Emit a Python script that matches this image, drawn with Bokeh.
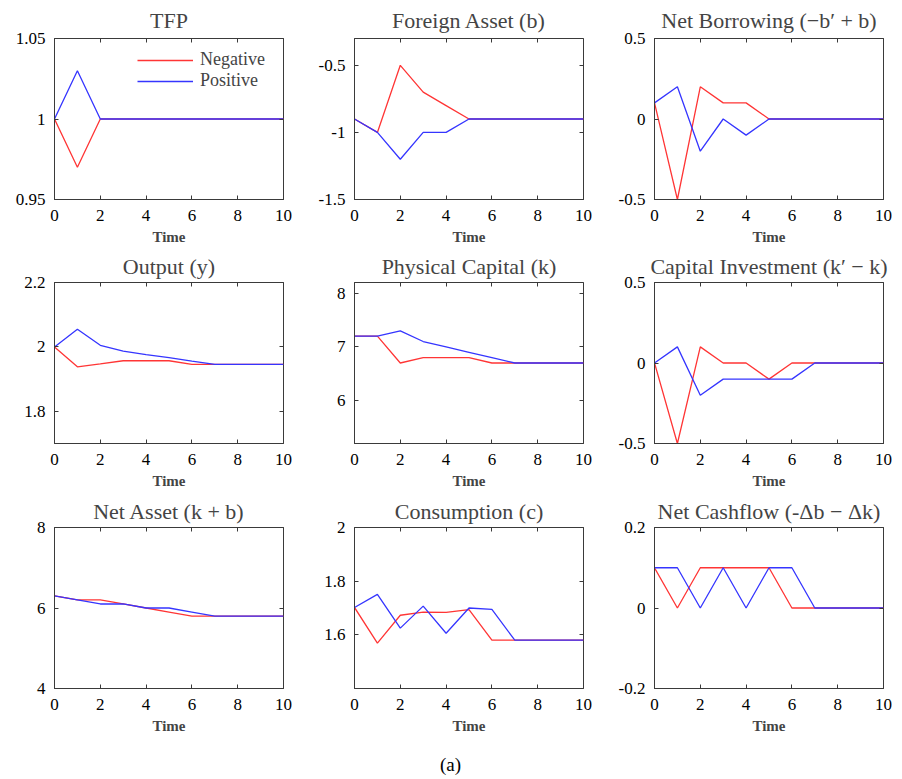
from bokeh.plotting import figure
from bokeh.models import (Range1d, FixedTicker, LinearAxis, CustomJSTickFormatter,
                          Legend, LegendItem, Label)
from bokeh.layouts import column, row
from bokeh.embed import file_html
from bokeh.resources import INLINE

# ---------------- data ----------------
time = [0, 1, 2, 3, 4, 5, 6, 7, 8, 9, 10]
time_ticks = [0, 2, 4, 6, 8, 10]

tfp_neg = [1.0, 0.97, 1.0, 1.0, 1.0, 1.0, 1.0, 1.0, 1.0, 1.0, 1.0]
tfp_pos = [1.0, 1.03, 1.0, 1.0, 1.0, 1.0, 1.0, 1.0, 1.0, 1.0, 1.0]

fa_neg = [-0.9, -1.0, -0.5, -0.7, -0.8, -0.9, -0.9, -0.9, -0.9, -0.9, -0.9]
fa_pos = [-0.9, -1.0, -1.2, -1.0, -1.0, -0.9, -0.9, -0.9, -0.9, -0.9, -0.9]

nb_neg = [0.1, -0.5, 0.2, 0.1, 0.1, 0.0, 0.0, 0.0, 0.0, 0.0, 0.0]
nb_pos = [0.1, 0.2, -0.2, 0.0, -0.1, 0.0, 0.0, 0.0, 0.0, 0.0, 0.0]

out_neg = [2.0, 1.938, 1.947, 1.957, 1.957, 1.957, 1.946, 1.946, 1.946, 1.946, 1.946]
out_pos = [2.0, 2.055, 2.005, 1.987, 1.976, 1.967, 1.956, 1.946, 1.946, 1.946, 1.946]

pk_neg = [7.2, 7.2, 6.7, 6.8, 6.8, 6.8, 6.7, 6.7, 6.7, 6.7, 6.7]
pk_pos = [7.2, 7.2, 7.3, 7.1, 7.0, 6.9, 6.8, 6.7, 6.7, 6.7, 6.7]

ci_neg = [0.0, -0.5, 0.1, 0.0, 0.0, -0.1, 0.0, 0.0, 0.0, 0.0, 0.0]
ci_pos = [0.0, 0.1, -0.2, -0.1, -0.1, -0.1, -0.1, 0.0, 0.0, 0.0, 0.0]

na_neg = [6.3, 6.2, 6.2, 6.1, 6.0, 5.9, 5.8, 5.8, 5.8, 5.8, 5.8]
na_pos = [6.3, 6.2, 6.1, 6.1, 6.0, 6.0, 5.9, 5.8, 5.8, 5.8, 5.8]

c_neg = [1.702, 1.569, 1.673, 1.685, 1.684, 1.694, 1.580, 1.580, 1.580, 1.580, 1.580]
c_pos = [1.702, 1.751, 1.625, 1.707, 1.606, 1.700, 1.695, 1.580, 1.580, 1.580, 1.580]

cf_neg = [0.1, 0.0, 0.1, 0.1, 0.1, 0.1, 0.0, 0.0, 0.0, 0.0, 0.0]
cf_pos = [0.1, 0.1, 0.0, 0.1, 0.0, 0.1, 0.1, 0.0, 0.0, 0.0, 0.0]

titles = ["TFP", "Foreign Asset (b)", "Net Borrowing (\u2212b\u2032 + b)",
          "Output (y)", "Physical Capital (k)", "Capital Investment (k\u2032 \u2212 k)",
          "Net Asset (k + b)", "Consumption (c)", "Net Cashflow (-\u0394b \u2212 \u0394k)"]
neg_series = [tfp_neg, fa_neg, nb_neg, out_neg, pk_neg, ci_neg, na_neg, c_neg, cf_neg]
pos_series = [tfp_pos, fa_pos, nb_pos, out_pos, pk_pos, ci_pos, na_pos, c_pos, cf_pos]
y_ranges = [(0.95, 1.05), (-1.5, -0.3), (-0.5, 0.5),
            (1.7, 2.2), (5.2, 8.2), (-0.5, 0.5),
            (4, 8), (1.4, 2.0), (-0.2, 0.2)]
y_ticks = [[0.95, 1, 1.05], [-1.5, -1, -0.5], [-0.5, 0, 0.5],
           [1.8, 2, 2.2], [6, 7, 8], [-0.5, 0, 0.5],
           [4, 6, 8], [1.6, 1.8, 2], [-0.2, 0, 0.2]]
legend_labels = ["Negative", "Positive"]
caption = "(a)"

# ---------------- style ----------------
FONT = "Liberation Serif"
RED = "#ff3535"
BLUE = "#3535ff"
FRAME = "#3a3a3a"

col_w = [300, 300, 300]
col_l = [54, 54, 54]
col_r = [17, 17, 17]
row_h = [247, 245, 253]
row_t = [36, 35, 35]
row_b = [48, 49, 57]
title_standoff = [11, 7, 7]

num_fmt = "return String(Math.round(tick*1000)/1000);"


def style_main(ax):
    ax.major_tick_in = 4
    ax.major_tick_out = 0
    ax.minor_tick_line_color = None
    ax.axis_line_color = FRAME
    ax.major_tick_line_color = FRAME
    ax.major_label_text_font = FONT
    ax.major_label_text_font_size = "17px"
    ax.major_label_text_color = "black"
    ax.formatter = CustomJSTickFormatter(code=num_fmt)


def blank_axis(ticks):
    return LinearAxis(ticker=FixedTicker(ticks=ticks),
                      formatter=CustomJSTickFormatter(code="return '';"),
                      major_tick_in=4, major_tick_out=0,
                      minor_tick_line_color=None, axis_line_color=None,
                      major_tick_line_color=FRAME,
                      major_label_text_font_size="0px",
                      major_label_standoff=0)


figs = []
for i in range(9):
    c, r = i % 3, i // 3
    p = figure(width=col_w[c], height=row_h[r],
               x_range=Range1d(0, 10), y_range=Range1d(*y_ranges[i]),
               output_backend="svg", toolbar_location=None,
               min_border_left=col_l[c], min_border_right=col_r[c],
               min_border_top=row_t[r], min_border_bottom=row_b[r])
    p.title.text = titles[i]
    p.title.text_font = FONT
    p.title.text_font_size = "22px"
    p.title.text_font_style = "normal"
    p.title.align = "center"
    p.title.standoff = title_standoff[r]
    p.grid.visible = False
    p.outline_line_color = FRAME
    p.outline_line_width = 1
    p.background_fill_color = "white"
    p.border_fill_color = "white"

    p.xaxis.ticker = FixedTicker(ticks=time_ticks)
    p.yaxis.ticker = FixedTicker(ticks=y_ticks[i])
    style_main(p.xaxis[0])
    style_main(p.yaxis[0])
    p.xaxis.major_label_standoff = 10
    p.yaxis.major_label_standoff = 9
    p.xaxis.axis_label = "Time"
    p.xaxis.axis_label_text_font = FONT
    p.xaxis.axis_label_text_font_size = "15px"
    p.xaxis.axis_label_text_font_style = "bold"
    p.xaxis.axis_label_standoff = 5

    p.add_layout(blank_axis(time_ticks), "above")
    p.add_layout(blank_axis(y_ticks[i]), "right")

    rn = p.line(time, neg_series[i], line_color=RED, line_width=1.3)
    rp = p.line(time, pos_series[i], line_color=BLUE, line_width=1.3)

    if i == 0:
        leg = Legend(items=[LegendItem(label=legend_labels[0], renderers=[rn]),
                            LegendItem(label=legend_labels[1], renderers=[rp])],
                     location=(83, 108), border_line_color=None,
                     background_fill_alpha=0, padding=0, margin=0, spacing=0,
                     glyph_width=56, glyph_height=20, label_height=20,
                     label_standoff=7, label_text_font=FONT,
                     label_text_font_size="18px")
        p.add_layout(leg)
    figs.append(p)

cap = figure(width=900, height=32, x_range=Range1d(0, 1), y_range=Range1d(0, 1),
             output_backend="svg", toolbar_location=None, min_border=0,
             x_axis_type=None, y_axis_type=None)
cap.grid.visible = False
cap.outline_line_color = None
cap.add_layout(Label(x=0.5, y=0.42, text=caption, text_align="center",
                     text_baseline="middle", text_font=FONT,
                     text_font_size="19px", text_color="black"))

layout = column(row(*figs[0:3]), row(*figs[3:6]), row(*figs[6:9]), cap)

with open("out.html", "w") as f:
    f.write(file_html(layout, INLINE))
